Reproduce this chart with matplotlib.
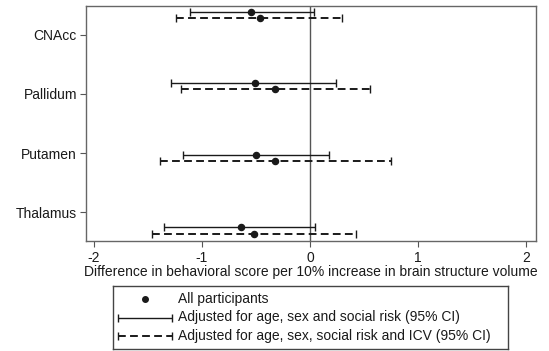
"""Forest plot: behavioral score difference per 10% increase in brain structure volume."""

import matplotlib

matplotlib.use("Agg")
import matplotlib.pyplot as plt

plt.rcParams["font.family"] = ["Liberation Sans", "DejaVu Sans"]

structures = ["CNAcc", "Pallidum", "Putamen", "Thalamus"]
tick_positions = [1.0, 2.0, 3.0, 4.0]

# model 1: adjusted for age, sex and social risk
pos_model1 = [0.61, 1.81, 3.03, 4.25]
est_model1 = [-0.54, -0.51, -0.50, -0.64]
low_model1 = [-1.11, -1.28, -1.17, -1.35]
high_model1 = [0.04, 0.24, 0.18, 0.05]

# model 2: additionally adjusted for ICV
pos_model2 = [0.71, 1.92, 3.14, 4.37]
est_model2 = [-0.46, -0.32, -0.32, -0.52]
low_model2 = [-1.24, -1.19, -1.39, -1.46]
high_model2 = [0.30, 0.56, 0.75, 0.43]

x_ticks = [-2, -1, 0, 1, 2]
legend_labels = [
    "All participants",
    "Adjusted for age, sex and social risk (95% CI)",
    "Adjusted for age, sex, social risk and ICV (95% CI)",
]

FS = 10
INK = "#1a1a1a"
DASH = (0, (4.0, 2.2))


def ci_bars(ax, pos, est, low, high, dashed, lw):
    err = [[e - lo for e, lo in zip(est, low)], [hi - e for e, hi in zip(est, high)]]
    _, caps, bars = ax.errorbar(
        est, pos, xerr=err, fmt="o", color=INK, ms=4.4,
        elinewidth=lw, capsize=3.2, capthick=1.0, zorder=3,
    )
    if dashed:
        for b in bars:
            b.set_linestyle(DASH)


fig = plt.figure(figsize=(5.49, 3.51), dpi=100)
ax = fig.add_axes([0.1566, 0.3134, 0.8197, 0.6695])

ax.axvline(0, color="#555555", lw=1.0, zorder=1)
ci_bars(ax, pos_model1, est_model1, low_model1, high_model1, False, 1.0)
ci_bars(ax, pos_model2, est_model2, low_model2, high_model2, True, 1.4)

ax.set_xlim(-2.07, 2.09)
ax.set_ylim(4.49, 0.51)
ax.set_xticks(x_ticks)
ax.set_xticklabels([str(v) for v in x_ticks])
ax.set_yticks(tick_positions)
ax.set_yticklabels(structures)
ax.tick_params(axis="both", direction="out", length=4.5, width=0.8,
               colors="#555555", labelcolor=INK, labelsize=FS, pad=2.0)
ax.tick_params(axis="x", pad=3.0)
for s in ax.spines.values():
    s.set_color("#666666")
    s.set_linewidth(1.0)
ax.set_xlabel("Difference in behavioral score per 10% increase in brain structure volume",
              fontsize=FS, color=INK, labelpad=0)

# legend box drawn as its own axes
lg = fig.add_axes([113 / 549, 1 - 349 / 351, (508 - 113) / 549, (349 - 286) / 351])
lg.set_xlim(0, 1)
lg.set_ylim(0, 1)
lg.set_xticks([])
lg.set_yticks([])
for s in lg.spines.values():
    s.set_color("#444444")
    s.set_linewidth(1.0)
rows = [0.79, 0.5, 0.21]
lg.plot([0.081], [rows[0]], "o", color=INK, ms=4.0)
for row, dashed, lw in ((rows[1], False, 1.0), (rows[2], True, 1.4)):
    _, _, bars = lg.errorbar([0.081], [row], xerr=[[0.069], [0.069]], fmt="none",
                             ecolor=INK, elinewidth=lw, capsize=3.2, capthick=1.0)
    if dashed:
        for b in bars:
            b.set_linestyle(DASH)
for row, text in zip(rows, legend_labels):
    lg.text(0.165, row, text, fontsize=FS, color=INK, va="center", ha="left")

fig.savefig("out.png", dpi=100)
